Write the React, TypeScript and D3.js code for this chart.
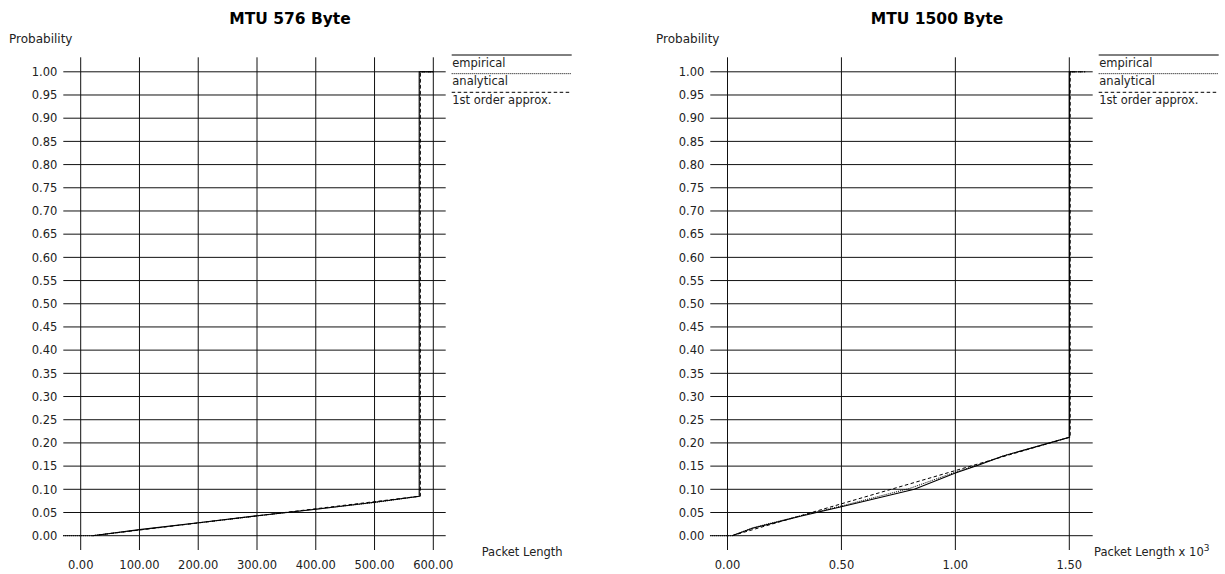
import React from 'react';
import * as d3 from 'd3';

type Pt = [number, number];

const probTicks = [0, 0.05, 0.1, 0.15, 0.2, 0.25, 0.3, 0.35, 0.4, 0.45, 0.5, 0.55, 0.6, 0.65, 0.7, 0.75, 0.8, 0.85, 0.9, 0.95, 1.0];
const ticks576 = [0, 100, 200, 300, 400, 500, 600];
const ticks1500 = [0, 0.5, 1.0, 1.5];

// MTU 576 (packet length in bytes)
const empirical576: Pt[] = [[20, 0], [100, 0.013], [200, 0.028], [300, 0.043], [400, 0.057], [500, 0.072], [576, 0.085], [576, 1.0], [600, 1.0]];
const analytical576: Pt[] = [[-30, 0], [20, 0], [100, 0.0125], [200, 0.0275], [300, 0.0425], [400, 0.057], [500, 0.0715], [577, 0.085], [577, 1.0], [600, 1.0]];
const approx576: Pt[] = [[20, 0], [576, 0.085], [578, 0.085], [578, 1.0], [600, 1.0]];

// MTU 1500 (packet length x 10^3)
const empirical1500: Pt[] = [[0.02, 0], [0.11, 0.016], [0.32, 0.042], [0.5, 0.0625], [0.82, 0.1], [1.0, 0.135], [1.1, 0.152], [1.21, 0.172], [1.5, 0.212], [1.5, 1.0], [1.52, 1.0]];
const analytical1500: Pt[] = [[-0.077, 0], [0.02, 0], [0.11, 0.017], [0.32, 0.043], [0.5, 0.064], [0.8, 0.102], [1.0, 0.137], [1.1, 0.153], [1.21, 0.172], [1.5, 0.212], [1.502, 0.212], [1.502, 1.0], [1.57, 1.0]];
const approx1500: Pt[] = [[0.02, 0], [1.5, 0.212], [1.504, 0.212], [1.504, 1.0], [1.57, 1.0]];

const FONT = "'DejaVu Sans', sans-serif";
const INK = '#222';

const legendItems = [
  { label: 'empirical', dash: '' },
  { label: 'analytical', dash: '1,1' },
  { label: '1st order approx.', dash: '3.5,2.5' },
];

interface PanelProps {
  dx: number;
  title: string;
  xDomain: [number, number];
  xRange: [number, number];
  xTicks: number[];
  xLabel: React.ReactNode;
  xLabelX: number;
  empirical: Pt[];
  analytical: Pt[];
  approx: Pt[];
}

const Panel: React.FC<PanelProps> = ({ dx, title, xDomain, xRange, xTicks, xLabel, xLabelX, empirical, analytical, approx }) => {
  const x = d3.scaleLinear().domain(xDomain).range(xRange);
  const y = d3.scaleLinear().domain([0, 1]).range([535.7, 71.8]);
  const line = d3.line<Pt>().x(d => x(d[0])).y(d => y(d[1]));

  const left = 63.3;
  const right = 445.7;
  const top = 57.3;
  const bottom = 550;

  return (
    <g transform={`translate(${dx},0)`} fontFamily={FONT} fill={INK}>
      <text x={290} y={24} textAnchor="middle" fontWeight="bold" fontSize={15.5} fill="#000">{title}</text>
      <text x={9} y={42.5} fontSize={12}>Probability</text>

      {/* horizontal grid + y labels */}
      {probTicks.map(t => (
        <g key={'y' + t}>
          <line x1={left} x2={right} y1={y(t)} y2={y(t)} stroke="#111" strokeWidth={1} />
          <text x={57.3} y={y(t) + 4.2} textAnchor="end" fontSize={11.5}>{t.toFixed(2)}</text>
        </g>
      ))}

      {/* vertical grid + x labels */}
      {xTicks.map(t => (
        <g key={'x' + t}>
          <line x1={x(t)} x2={x(t)} y1={top} y2={bottom} stroke="#111" strokeWidth={1} />
          <text x={x(t)} y={569.3} textAnchor="middle" fontSize={11.5}>{t.toFixed(2)}</text>
        </g>
      ))}

      <text x={xLabelX} y={555.7} fontSize={11.5}>{xLabel}</text>

      <path d={line(approx) || ''} fill="none" stroke="#000" strokeWidth={1} strokeDasharray="3.5,2.5" />
      <path d={line(analytical) || ''} fill="none" stroke="#000" strokeWidth={1} strokeDasharray="1,1" />
      <path d={line(empirical) || ''} fill="none" stroke="#000" strokeWidth={1.1} />

      {legendItems.map((it, i) => (
        <g key={it.label}>
          <line x1={451.7} x2={571.7} y1={55 + i * 18.65} y2={55 + i * 18.65} stroke="#000" strokeWidth={1} strokeDasharray={it.dash || undefined} />
          <text x={452.3} y={66.5 + i * 18.65} fontSize={11.5}>{it.label}</text>
        </g>
      ))}
    </g>
  );
};

export default function App() {
  return (
    <svg width={1225} height={574} style={{ position: 'absolute', left: 0, top: 0, background: '#fff' }}>
      <rect width={1225} height={574} fill="#fff" />
      <Panel
        dx={0}
        title="MTU 576 Byte"
        xDomain={[0, 600]}
        xRange={[80.7, 433.3]}
        xTicks={ticks576}
        xLabel="Packet Length"
        xLabelX={481.7}
        empirical={empirical576}
        analytical={analytical576}
        approx={approx576}
      />
      <Panel
        dx={647}
        title="MTU 1500 Byte"
        xDomain={[0, 1.5]}
        xRange={[80.5, 422.3]}
        xTicks={ticks1500}
        xLabel={<>Packet Length x 10<tspan dy={-5} fontSize={9}>3</tspan></>}
        xLabelX={447}
        empirical={empirical1500}
        analytical={analytical1500}
        approx={approx1500}
      />
    </svg>
  );
}
